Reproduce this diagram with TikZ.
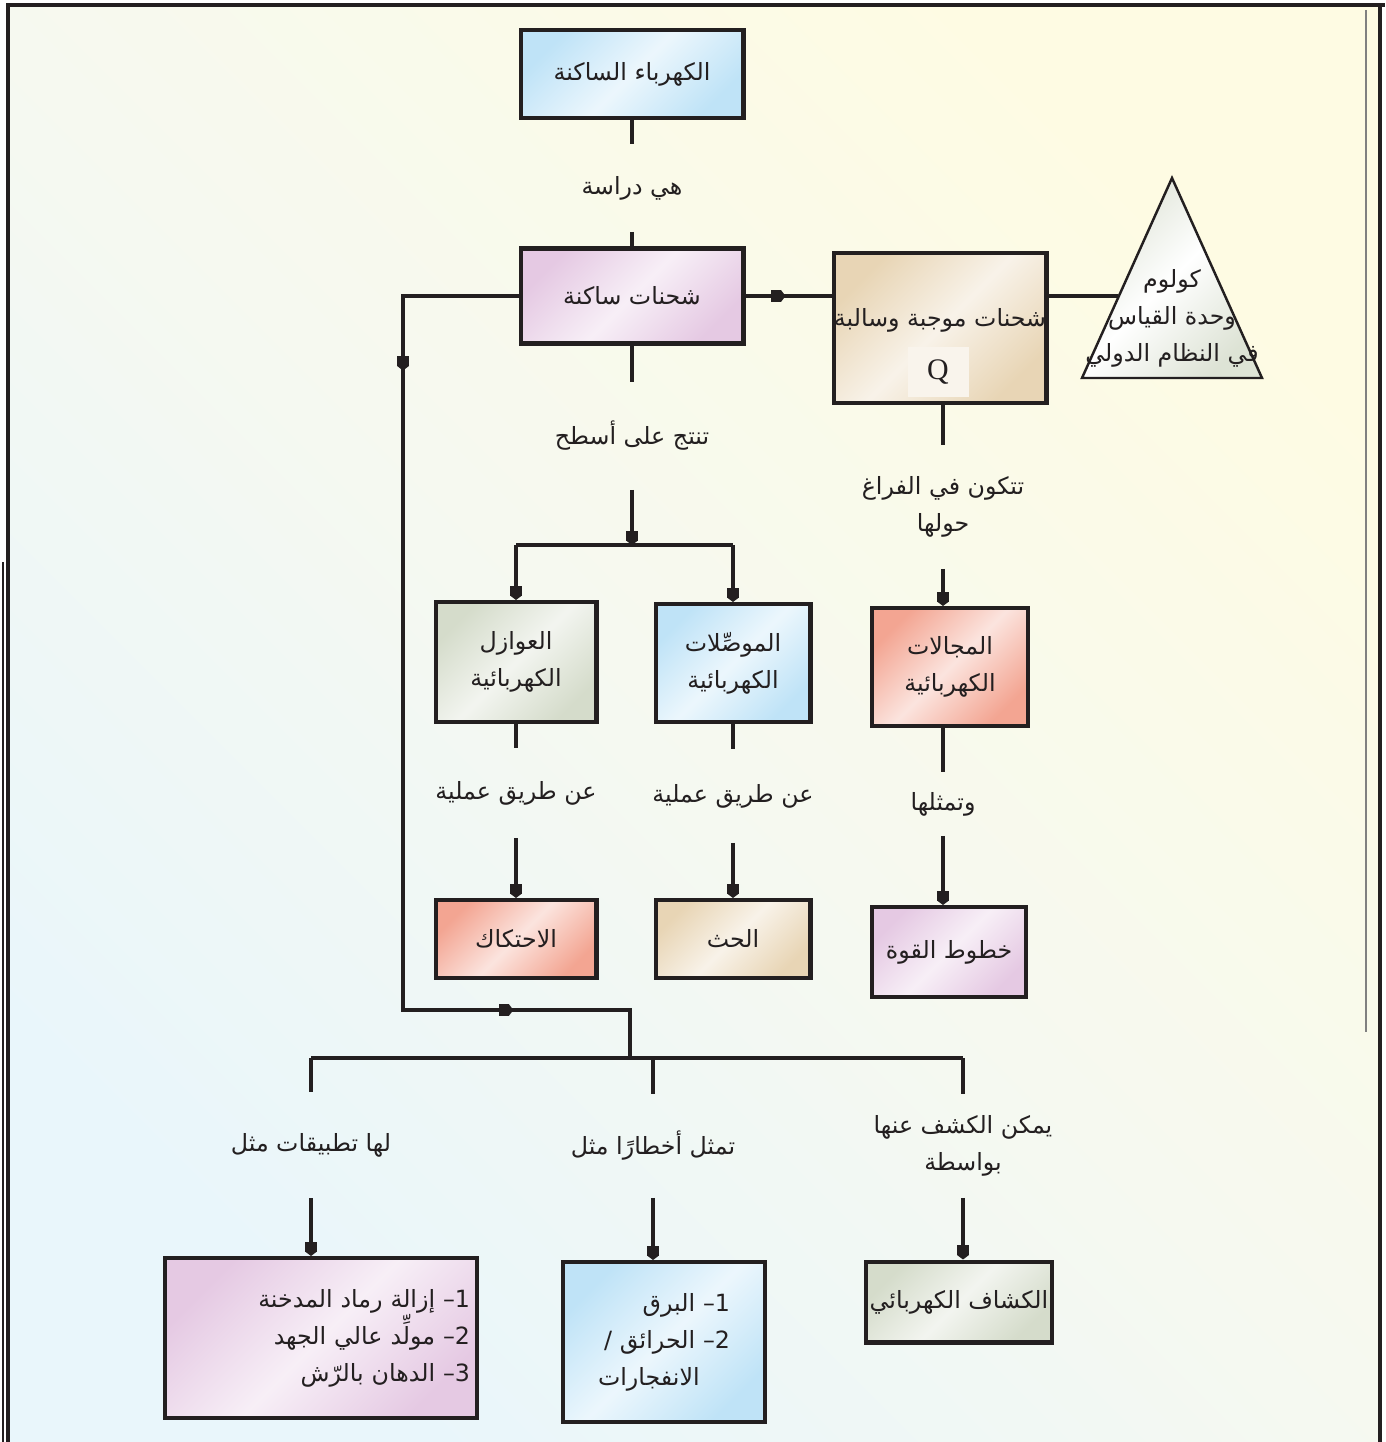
\documentclass[tikz,border=0pt]{standalone}
\usepackage{fontspec}
\setmainfont{Liberation Serif}
\newfontfamily\arabicfont[Script=Arabic]{DejaVu Sans}
\TeXXeTstate=1
\usetikzlibrary{arrows.meta,decorations.markings}

\newcommand{\artxt}[1]{{\arabicfont\beginR #1\endR}}

\definecolor{ink}{HTML}{231F20}
\definecolor{skyfill}{HTML}{BFE3F7}
\definecolor{lilacfill}{HTML}{E5C9E3}
\definecolor{sagefill}{HTML}{D5DCCB}
\definecolor{salmonfill}{HTML}{F3A592}
\definecolor{sandfill}{HTML}{E8D5B5}
\definecolor{bgcream}{HTML}{FEFBE3}
\definecolor{bgmid}{HTML}{F6F9F0}
\definecolor{bgblue}{HTML}{E9F6FB}

\tikzset{
  blk/.tip={Rectangle[length=5.5pt,width=6.5pt,sep=0pt]Triangle[length=2.5pt,width=6.5pt]},
  box/.style={draw=ink, line width=2.3pt, top color=#1, bottom color=#1,
    middle color=white!70!#1, shading angle=45, text=ink, align=center, inner sep=2pt},
  lbl/.style={inner sep=0pt, text=ink, align=center, minimum height=#1},
  lbl/.default=1.9cm,
  txt/.style={inner sep=1pt, text=ink, align=center},
  link/.style={draw=ink, line width=1.9pt},
  midtip/.style={postaction={decorate, decoration={markings,
    mark=at position #1 with {\arrow{blk}}}}}
}

\begin{document}
\begin{tikzpicture}[x=0.02cm, y=-0.02cm, line join=miter, font=\fontsize{13.5}{21}\selectfont]
\useasboundingbox (0,0) rectangle (1385,1442);
% background and frame
\shade[top color=bgcream, bottom color=bgblue, middle color=bgmid, shading angle=-45] (8,5) rectangle (1380,1442);
\draw[ink, line width=2.2pt] (8,1442) -- (8,5) -- (1385,5);
\draw[ink, line width=2.2pt] (1380,5) -- (1380,1442);
\draw[ink, line width=0.8pt] (3,562) -- (3,1442);
\draw[gray, line width=1pt] (1366,10) -- (1366,1032);

% main column
\node[box=skyfill, minimum width=4.46cm, minimum height=1.76cm] (stat) at (632,74) {\artxt{الكهرباء الساكنة}};
\node[lbl=1.74cm] (l1) at (632,188) {\artxt{هي دراسة}};
\node[box=lilacfill, minimum width=4.46cm, minimum height=1.9cm] (rest) at (632,296) {\artxt{شحنات ساكنة}};
\node[lbl=2.14cm] (l2) at (632,436) {\artxt{تنتج على أسطح}};
\coordinate (split) at (632,545);
\node[box=sagefill, minimum width=3.22cm, minimum height=2.4cm] (insul) at (516,662) {\artxt{العوازل}\\\artxt{الكهربائية}};
\node[box=skyfill, minimum width=3.1cm, minimum height=2.36cm] (cond) at (733,663) {\artxt{الموصِّلات}\\\artxt{الكهربائية}};
\node[lbl=1.8cm] (l4) at (516,793) {\artxt{عن طريق عملية}};
\node[lbl=1.86cm] (l5) at (733,796) {\artxt{عن طريق عملية}};
\node[box=salmonfill, minimum width=3.22cm, minimum height=1.56cm] (fric) at (516,939) {\artxt{الاحتكاك}};
\node[box=sandfill, minimum width=3.1cm, minimum height=1.56cm] (induct) at (733,939) {\artxt{الحث}};

% right column
\node[box=sandfill, inner xsep=0pt, minimum width=4.26cm, minimum height=3cm, text height=0.45cm, text depth=0.5cm] (charges) at (940,328) {\artxt{شحنات موجبة وسالبة}};
\node[fill=white!75!sandfill, minimum width=1.22cm, minimum height=1.02cm, font=\fontsize{17}{20}\selectfont, text=ink] (q) at (938,372) {Q};
\draw[draw=ink, line width=1.4pt, top color=sagefill!80, bottom color=sagefill!80, middle color=white, shading angle=45]
  (1172,178) -- (1262,378) -- (1082,378) -- cycle;
\node[txt] (coulomb) at (1172,318) {\artxt{كولوم}\\\artxt{وحدة القياس}\\\artxt{في النظام الدولي}};
\coordinate (triedge) at (1118,296);
\node[lbl=2.46cm] (l3) at (943,507) {\artxt{تتكون في الفراغ}\\\artxt{حولها}};
\node[box=salmonfill, minimum width=3.12cm, minimum height=2.36cm] (field) at (950,667) {\artxt{المجالات}\\\artxt{الكهربائية}};
\node[lbl=1.26cm] (l6) at (943,804) {\artxt{وتمثلها}};
\node[box=lilacfill, minimum width=3.08cm, minimum height=1.8cm] (lines) at (949,952) {\artxt{خطوط القوة}};

% bottom row
\coordinate (bus) at (630,1058);
\node[lbl=2.12cm] (l7) at (311,1145) {\artxt{لها تطبيقات مثل}};
\node[lbl=2.06cm] (l8) at (653,1146) {\artxt{تمثل أخطارًا مثل}};
\node[lbl=2.06cm] (l9) at (963,1146) {\artxt{يمكن الكشف عنها}\\\artxt{بواسطة}};
\node[box=lilacfill, minimum height=3.2cm, inner xsep=0.14cm, text width=5.96cm, align=right] (apps) at (321,1338)
  {\artxt{1– إزالة رماد المدخنة}\\\artxt{2– مولِّد عالي الجهد}\\\artxt{3– الدهان بالرّش}};
\node[box=skyfill, minimum height=3.2cm, inner xsep=0.7cm, text width=2.64cm, align=right] (danger) at (664,1342)
  {\artxt{1– البرق}\\\artxt{2– الحرائق /}\\\artxt{الانفجارات}\hspace*{0.9cm}};
\node[box=sagefill, minimum width=3.36cm, minimum height=1.62cm] (detect) at (959,1302) {\artxt{الكشاف الكهربائي}};

% connectors
\draw[link] (stat) -- (l1);
\draw[link] (l1) -- (rest);
\draw[link] (rest) -- (l2);
\draw[link, -blk] (l2) -- (split);
\draw[link] (insul.north |- split) -- (cond.north |- split);
\draw[link, -blk] (insul.north |- split) -- (insul);
\draw[link, -blk] (cond.north |- split) -- (cond);
\draw[link] (insul) -- (l4);
\draw[link, -blk] (l4) -- (fric);
\draw[link] (cond) -- (l5);
\draw[link, -blk] (l5) -- (induct);
\draw[link, midtip=0.8cm] (rest.east) -- (rest.east -| charges.west);
\draw[link] (charges.east |- rest.east) -- (triedge);
\draw[link] (charges.south -| l3) -- (l3);
\draw[link, -blk] (l3) -- (l3 |- field.north);
\draw[link] (field.south -| l6) -- (l6);
\draw[link, -blk] (l6) -- (l6 |- lines.north);
\draw[link, midtip=3.8cm, midtip=18.8cm] (rest.west) -- (403,296) -- (403,1010) -- (630,1010) -- (bus);
\draw[link] (l7 |- bus) -- (l9 |- bus);
\draw[link] (l7 |- bus) -- (l7);
\draw[link] (l8 |- bus) -- (l8);
\draw[link] (l9 |- bus) -- (l9);
\draw[link, -blk] (l7) -- (l7 |- apps.north);
\draw[link, -blk] (l8) -- (l8 |- danger.north);
\draw[link, -blk] (l9) -- (l9 |- detect.north);
\end{tikzpicture}
\end{document}
